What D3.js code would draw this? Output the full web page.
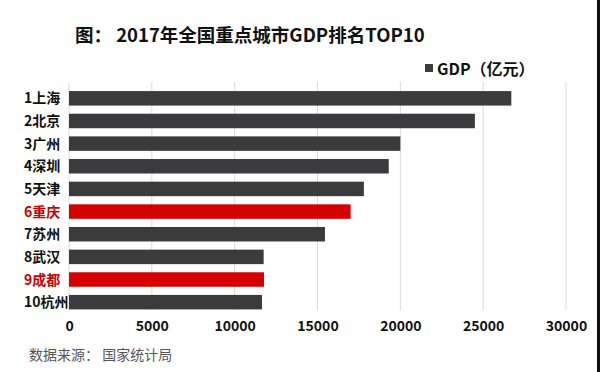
<!DOCTYPE html>
<html>
<head>
<meta charset="utf-8">
<script src="https://cdn.jsdelivr.net/npm/d3@7"></script>
<style>
  html, body { margin: 0; padding: 0; background: #fff; }
  svg { display: block; font-family: "Noto Sans CJK SC", "Noto Sans", sans-serif; }
</style>
</head>
<body>
<svg id="chart" width="600" height="372"></svg>
<script>
// 2017年全国重点城市GDP（亿元），数值读自原图
const cities = ['1上海', '2北京', '3广州', '4深圳', '5天津', '6重庆', '7苏州', '8武汉', '9成都', '10杭州'];
const gdp = [26700, 24500, 20000, 19300, 17800, 17000, 15450, 11750, 11770, 11650];
const highlighted = ['6重庆', '9成都'];
const xTicks = [0, 5000, 10000, 15000, 20000, 25000, 30000];

const svg = d3.select('#chart');

const plotLeft = 69, plotRight = 566, plotTop = 87, plotBottom = 313.5;

const x = d3.scaleLinear()
    .domain([0, 30000])
    .range([plotLeft, plotRight]);

const y = d3.scaleBand()
    .domain(cities)
    .range([plotTop, plotBottom])
    .paddingInner(0.36)
    .paddingOuter(0.18);

const dark = '#3b3b3d';
const red = '#d50000';

// gridlines
svg.append('g')
    .selectAll('line')
    .data(xTicks)
    .join('line')
    .attr('x1', (d) => x(d))
    .attr('x2', (d) => x(d))
    .attr('y1', 82)
    .attr('y2', 310)
    .attr('stroke', '#dadada')
    .attr('stroke-width', 1);

// bars
svg.append('g')
    .selectAll('rect')
    .data(cities)
    .join('rect')
    .attr('x', x(0))
    .attr('y', (d) => y(d))
    .attr('width', (d, i) => x(gdp[i]) - x(0))
    .attr('height', y.bandwidth())
    .attr('fill', (d) => highlighted.includes(d) ? red : dark);

// category labels
svg.append('g')
    .selectAll('text')
    .data(cities)
    .join('text')
    .attr('x', 24)
    .attr('y', (d) => y(d) + y.bandwidth() / 2)
    .attr('dy', '0.36em')
    .attr('font-size', 14)
    .attr('font-weight', 'bold')
    .attr('fill', (d) => highlighted.includes(d) ? '#cc0000' : '#111')
    .text((d) => d);

// x axis labels
const xAxis = d3.axisBottom(x)
    .tickValues(xTicks)
    .tickSize(0)
    .tickPadding(0)
    .tickFormat((d) => d);

const gx = svg.append('g')
    .attr('transform', 'translate(0,321)')
    .call(xAxis);
gx.select('.domain').remove();
gx.selectAll('text')
    .attr('font-family', '"Noto Sans CJK SC", "Noto Sans", sans-serif')
    .attr('font-size', 14)
    .attr('font-weight', 'bold')
    .attr('fill', '#111');

// title
svg.append('text')
    .attr('x', 75)
    .attr('y', 42)
    .attr('font-size', 18.5)
    .attr('font-weight', 'bold')
    .attr('fill', '#111')
    .text('图： 2017年全国重点城市GDP排名TOP10');

// legend
svg.append('rect')
    .attr('x', 425)
    .attr('y', 64)
    .attr('width', 8)
    .attr('height', 8)
    .attr('fill', dark);
svg.append('text')
    .attr('x', 437)
    .attr('y', 74.5)
    .attr('font-size', 16)
    .attr('font-weight', 'bold')
    .attr('fill', '#111')
    .text('GDP（亿元）');

// source
svg.append('text')
    .attr('x', 29)
    .attr('y', 360)
    .attr('font-size', 14)
    .attr('fill', '#555')
    .text('数据来源： 国家统计局');

// right edge border
svg.append('rect')
    .attr('x', 597)
    .attr('y', 0)
    .attr('width', 3)
    .attr('height', 372)
    .attr('fill', '#111');
</script>
</body>
</html>
